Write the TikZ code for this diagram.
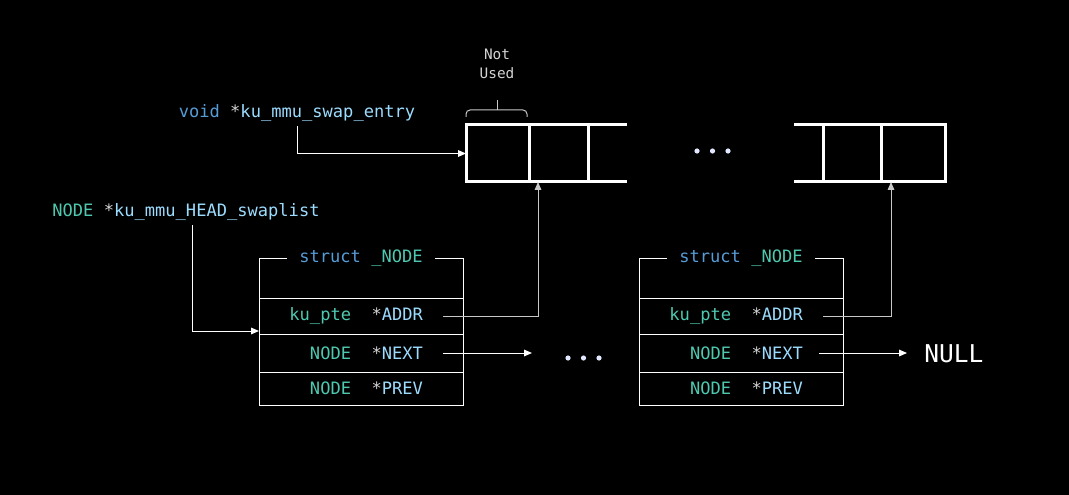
\documentclass[tikz,border=0pt]{standalone}
\usepackage{fontspec}
\setmonofont{DejaVu Sans Mono}
\usepackage{tikz}
\usetikzlibrary{arrows.meta, positioning, calc}
\usepackage{xcolor}
\definecolor{kwblue}{RGB}{86,156,214}
\definecolor{typeteal}{RGB}{78,201,176}
\definecolor{varblue}{RGB}{156,220,254}
\definecolor{stargray}{RGB}{212,212,212}
\definecolor{linegray}{RGB}{200,200,200}
\definecolor{dotwhite}{RGB}{225,232,255}
\newcommand{\ptr}{\textcolor{stargray}{*}}
\newcommand{\fieldtext}[2]{\textcolor{typeteal}{#1}\hspace*{15.4pt}\ptr\textcolor{varblue}{#2}\rule{15pt}{0pt}}

\begin{document}
\begin{tikzpicture}[x=0.75pt, y=-0.75pt,
  code/.style={font=\ttfamily\fontsize{12.8}{15}\selectfont},
  note/.style={font=\ttfamily\fontsize{10.8}{14.25}\selectfont, text=stargray, align=center},
  cell/.style={draw=white, line width=2.25pt, outer sep=0pt, inner sep=0pt, minimum width=45.75pt, minimum height=42.75pt},
  field/.style={code, draw=white, line width=0.75pt, outer sep=0pt, inner xsep=15pt, inner ysep=0pt, minimum width=153pt, text width=123pt, align=right},
  title/.style={code, fill=black, inner xsep=9pt, inner ysep=2pt},
  link/.style={draw=white, line width=0.75pt, -{Triangle[length=6pt, width=5pt]}},
  addrlink/.style={link, draw=linegray}]
  \fill[black] (0,0) rectangle (1069,495);
  \useasboundingbox (0,0) rectangle (1069,495);
  % Global pointers
  \node[code, text=varblue] (swapvar) at (297,113) {\textcolor{kwblue}{void} \ptr ku\_mmu\_swap\_entry};
  \node[code, text=varblue] (headvar) at (186,212) {\textcolor{typeteal}{NODE} \ptr ku\_mmu\_HEAD\_swaplist};
  % Swap array (left part)
  \node[cell, minimum width=47.25pt] (cellA1) at (497.5,153.5) {};
  \node[cell, minimum width=44.25pt, right=0pt of cellA1] (cellA2) {};
  \draw[white, line width=2.25pt] (cellA2.north east) -- ++(39,0);
  \draw[white, line width=2.25pt] (cellA2.south east) -- ++(39,0);
  % Swap array (right part)
  \node[cell, minimum width=43.5pt] (cellB1) at (852,153.5) {};
  \node[cell, minimum width=48pt, right=0pt of cellB1] (cellB2) {};
  \draw[white, line width=2.25pt] (cellB1.north west) -- ++(-29,0);
  \draw[white, line width=2.25pt] (cellB1.south west) -- ++(-29,0);
  \foreach \i in {0,1,2} \fill[dotwhite] (697+\i*15.5,151) circle (2.6);
  % Unused first slot
  \draw[linegray, line width=0.75pt, rounded corners=3pt] ($(cellA1.north west)+(0,-8)$) |- ($(cellA1.north)+(0,-15)$) -| ($(cellA1.north east)+(-2,-8)$);
  \draw[linegray, line width=0.75pt] ($(cellA1.north)+(0,-15)$) -- ++(0,-10);
  \node[note] (notused) at (497,64) {Not\\Used};
  % First list node
  \node[field, minimum height=30pt] (hdA) at (361,278) {};
  \node[title] (titleA) at (hdA.north) {\textcolor{kwblue}{struct} \textcolor{typeteal}{\_NODE}};
  \node[field, minimum height=27pt, below=0pt of hdA] (addrA) {\fieldtext{ku\_pte}{ADDR}};
  \node[field, minimum height=28.5pt, below=0pt of addrA] (nextA) {\fieldtext{NODE}{NEXT}};
  \node[field, minimum height=24.75pt, below=0pt of nextA] (prevA) {\fieldtext{NODE}{PREV}};
  % Last list node
  \node[field, minimum height=30pt] (hdB) at (741,278) {};
  \node[title] (titleB) at (hdB.north) {\textcolor{kwblue}{struct} \textcolor{typeteal}{\_NODE}};
  \node[field, minimum height=27pt, below=0pt of hdB] (addrB) {\fieldtext{ku\_pte}{ADDR}};
  \node[field, minimum height=28.5pt, below=0pt of addrB] (nextB) {\fieldtext{NODE}{NEXT}};
  \node[field, minimum height=24.75pt, below=0pt of nextB] (prevB) {\fieldtext{NODE}{PREV}};
  \foreach \i in {0,1,2} \fill[dotwhite] (568+\i*15.5,358) circle (2.6);
  \node[anchor=west, inner sep=0pt, font=\ttfamily\fontsize{18.4}{20}\selectfont, text=white] (nullnode) at (924,354) {NULL};
  % Connectors
  \coordinate (nextAend) at ($(nextA.east)+(69,0)$);
  \draw[link] (swapvar.south) |- (cellA1.west);
  \draw[link] ($(headvar.south)+(6,0)$) |- ($(addrA.south west)+(0,-3)$);
  \draw[addrlink] ($(addrA.east)+(-20,0)$) -| ($(cellA2.south west)+(9,0)$);
  \draw[link] ($(nextA.east)+(-20,0)$) -- (nextAend);
  \draw[addrlink] ($(addrB.east)+(-20,0)$) -| ($(cellB2.south west)+(10,0)$);
  \draw[link] ($(nextB.east)+(-24,0)$) -- ($(nextB.east -| nullnode.west)+(-17,0)$);
\end{tikzpicture}
\end{document}
